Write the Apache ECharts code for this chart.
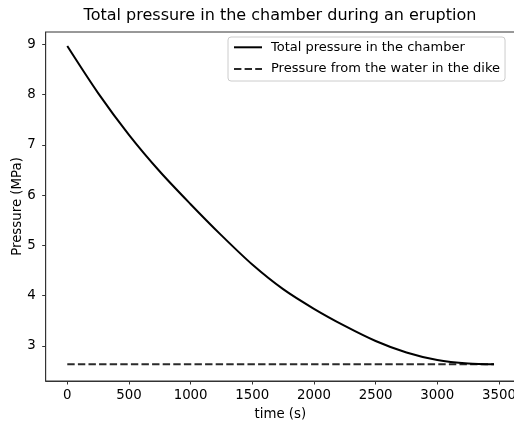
<!DOCTYPE html>
<html>
<head>
<meta charset="utf-8">
<script src="https://cdn.jsdelivr.net/npm/echarts@6/dist/echarts.min.js"></script>
<style>
html,body{margin:0;padding:0;background:#fff;}
#chart{width:514px;height:423px;}
</style>
</head>
<body>
<div id="chart"></div>
<script>
const titleText = 'Total pressure in the chamber during an eruption';
const seriesNames = ['Total pressure in the chamber', 'Pressure from the water in the dike'];
const times = [0, 250, 500, 750, 1000, 1250, 1500, 1750, 2000, 2250, 2500, 2750, 3000, 3250, 3460];
const totalPressure = [8.966, 8.03, 7.20, 6.47, 5.82, 5.20, 4.62, 4.13, 3.74, 3.40, 3.10, 2.87, 2.72, 2.65, 2.635];
const dikeTimes = [0, 3460];
const dikePressure = [2.635, 2.635];
const xTicks = [0, 500, 1000, 1500, 2000, 2500, 3000, 3500];
const yTicks = [3, 4, 5, 6, 7, 8, 9];

const font = 'DejaVu Sans';
const fs = 13.33;
const chart = echarts.init(document.getElementById('chart'), null, {renderer: 'canvas'});

chart.setOption({
  animation: false,
  backgroundColor: '#fff',
  graphic: [{
    type: 'text',
    x: 280, y: 16,
    style: {
      text: titleText,
      align: 'center', verticalAlign: 'middle',
      fontFamily: font, fontSize: 16,
      fill: '#000'
    }
  }],
  grid: {
    left: 45.7, top: 32, right: -1, bottom: 42,
    containLabel: false,
    outerBoundsMode: 'none',
    show: true, borderColor: '#333', borderWidth: 1, backgroundColor: 'transparent'
  },
  legend: {
    orient: 'vertical',
    left: 228, top: 37,
    itemWidth: 28, itemHeight: 15, itemGap: 6.7,
    padding: [2.8, 5, 4.5, 5],
    backgroundColor: 'rgba(255,255,255,0.8)',
    borderColor: '#ccc', borderWidth: 1, borderRadius: 3,
    itemStyle: {opacity: 0},
    textStyle: {fontFamily: font, fontSize: 13, color: '#000', lineHeight: 15, padding: [0, 0, 0, 4]},
    data: seriesNames
  },
  xAxis: {
    type: 'value',
    min: -175, max: 3630,
    name: 'time (s)', nameLocation: 'middle', nameGap: 27, nameMoveOverlap: false,
    nameTextStyle: {fontFamily: font, fontSize: fs, color: '#000'},
    splitLine: {show: false},
    axisLine: {show: true, onZero: false, lineStyle: {color: '#333', width: 1}},
    axisTick: {show: true, length: 3.5, lineStyle: {color: '#333', width: 1}, customValues: xTicks},
    axisLabel: {fontFamily: font, fontSize: fs, color: '#000', margin: 8, customValues: xTicks,
      formatter: v => String(v)}
  },
  yAxis: {
    type: 'value',
    min: 2.304, max: 9.245,
    name: 'Pressure (MPa)', nameLocation: 'middle', nameGap: 22, nameRotate: 90, nameMoveOverlap: false,
    nameTextStyle: {fontFamily: font, fontSize: fs, color: '#000'},
    splitLine: {show: false},
    axisLine: {show: true, onZero: false, lineStyle: {color: '#333', width: 1}},
    axisTick: {show: true, length: 3.5, lineStyle: {color: '#333', width: 1}, customValues: yTicks},
    axisLabel: {fontFamily: font, fontSize: fs, color: '#000', margin: 10, customValues: yTicks,
      formatter: v => String(v)}
  },
  series: [
    {
      name: seriesNames[0],
      type: 'line',
      data: times.map((t, i) => [t, totalPressure[i]]),
      showSymbol: false, symbol: 'none',
      smooth: 0.3,
      lineStyle: {color: '#000', width: 2, type: 'solid'},
      itemStyle: {color: '#000'},
      z: 3
    },
    {
      name: seriesNames[1],
      type: 'line',
      data: dikeTimes.map((t, i) => [t, dikePressure[i]]),
      showSymbol: false, symbol: 'none',
      lineStyle: {color: '#2a2a2a', width: 2, type: [7.4, 3.2]},
      itemStyle: {color: '#2a2a2a'},
      z: 2
    }
  ]
});
</script>
</body>
</html>
